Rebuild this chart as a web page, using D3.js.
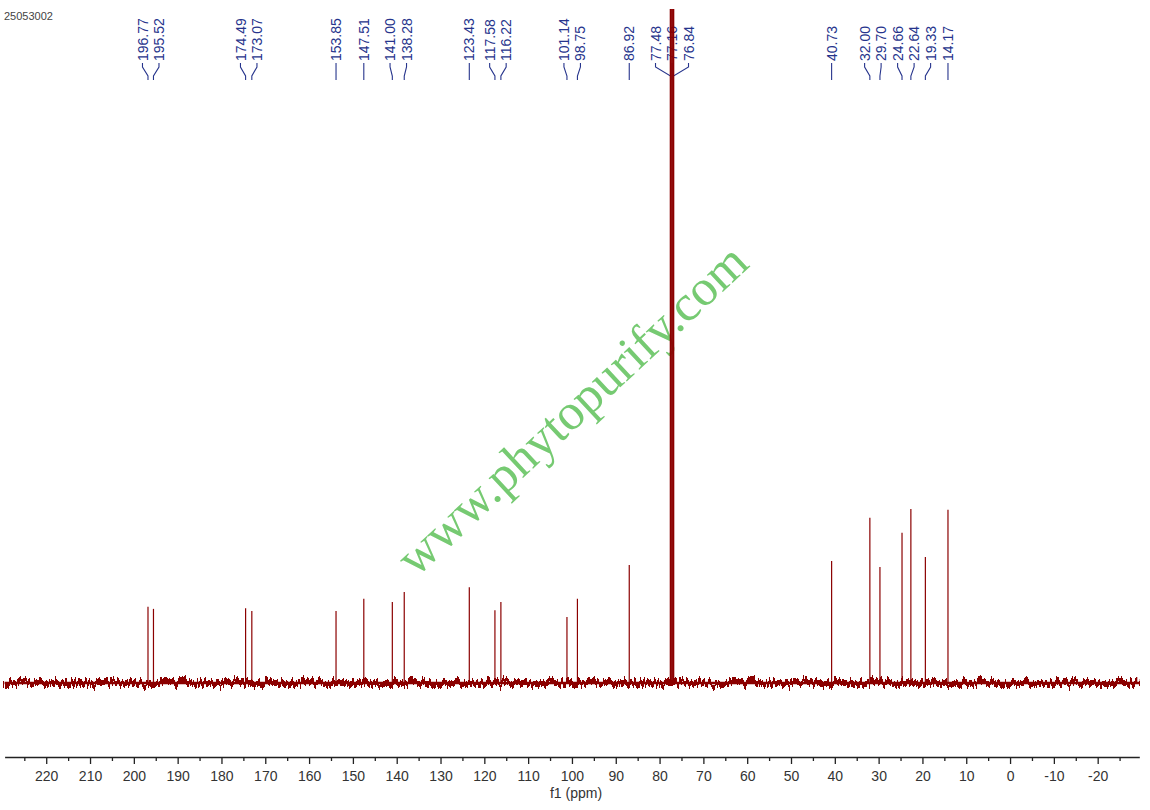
<!DOCTYPE html>
<html>

<head>
    <meta charset="utf-8" />
    <title>25053002 13C NMR</title>
    <script src="https://d3js.org/d3.v7.min.js"></script>
    <style>
        body { margin: 0; background: #fff; }
        svg text { font-family: Arial, "Liberation Sans", sans-serif; }
    </style>
</head>

<body>
    <svg id="spectrum" width="1150" height="810"></svg>

    <script>

        // peak positions (ppm) and heights (0 = baseline, 1000 = top of plot)
        var peakShifts = [196.77, 195.52, 174.49, 173.07, 153.85, 147.51, 141.00, 138.28,
            123.43, 117.58, 116.22, 101.14, 98.75, 86.92, 77.48, 77.16, 76.84,
            40.73, 32.00, 29.70, 24.66, 22.64, 19.33, 14.17];
        var peakHeights = [113, 110, 111, 107, 107, 125, 120, 135,
            142, 108, 120, 98, 125, 175, 1000, 1000, 1000,
            181, 245, 172, 223, 258, 187, 257];
        var peakLabels = peakShifts.map(function (d) { return d.toFixed(2); });

        var majorTicks = [220, 210, 200, 190, 180, 170, 160, 150, 140, 130, 120, 110,
            100, 90, 80, 70, 60, 50, 40, 30, 20, 10, 0, -10, -20];
        var minorTicks = [225, 215, 205, 195, 185, 175, 165, 155, 145, 135, 125, 115,
            105, 95, 85, 75, 65, 55, 45, 35, 25, 15, 5, -5, -15, -25];

        var sampleName = "25053002";
        var axisTitle = "f1 (ppm)";
        var watermark = "www.phytopurify.com";

        var svg = d3.select("#spectrum");

        var x = d3.scaleLinear().domain([229.5, -29.5]).range([4.6, 1139.3]);
        var y = d3.scaleLinear().domain([0, 1000]).range([683, 9]);

        var red = "#8b0000";
        var blue = "#26348c";

        // noise filter for the baseline
        var defs = svg.append("defs");
        var filt = defs.append("filter")
            .attr("id", "noise")
            .attr("filterUnits", "userSpaceOnUse")
            .attr("x", 0).attr("y", 655).attr("width", 1150).attr("height", 60);
        filt.append("feTurbulence")
            .attr("type", "fractalNoise")
            .attr("baseFrequency", "0.45 0.02")
            .attr("numOctaves", 2)
            .attr("seed", 3)
            .attr("result", "t");
        filt.append("feDisplacementMap")
            .attr("in", "SourceGraphic")
            .attr("in2", "t")
            .attr("scale", 16)
            .attr("xChannelSelector", "R")
            .attr("yChannelSelector", "G");

        // watermark
        svg.append("text")
            .attr("transform", "translate(416,578) rotate(-43)")
            .style("font-family", "'Liberation Serif', 'Times New Roman', serif")
            .style("font-size", "51px")
            .attr("fill", "#76ca72")
            .text(watermark);

        // sample name
        svg.append("text")
            .attr("x", 4).attr("y", 20)
            .style("font-size", "11px")
            .attr("fill", "#444")
            .text(sampleName);

        // spread labels so they don't overlap
        function spread(xs, gap) {
            var clusters = xs.map(function (v, i) { return { sum: v, n: 1, idx: [i] }; });
            var merged = true;
            while (merged) {
                merged = false;
                for (var i = 1; i < clusters.length; i++) {
                    var a = clusters[i - 1], b = clusters[i];
                    var aEnd = a.sum / a.n + (a.n - 1) * gap / 2;
                    var bStart = b.sum / b.n - (b.n - 1) * gap / 2;
                    if (bStart - aEnd < gap) {
                        clusters.splice(i - 1, 2, { sum: a.sum + b.sum, n: a.n + b.n, idx: a.idx.concat(b.idx) });
                        merged = true;
                        break;
                    }
                }
            }
            var out = [];
            clusters.forEach(function (c) {
                var start = c.sum / c.n - (c.n - 1) * gap / 2;
                c.idx.forEach(function (k, j) { out[k] = start + j * gap; });
            });
            return out;
        }

        var peakX = peakShifts.map(function (d) { return x(d); });
        var labelX = spread(peakX, 16.5);

        var labels = svg.append("g").attr("class", "labels");

        labels.selectAll("text")
            .data(peakLabels)
            .enter().append("text")
            .attr("transform", function (d, i) { return "translate(" + labelX[i] + ",61) rotate(-90)"; })
            .attr("dy", "0.36em")
            .style("font-size", "14px")
            .attr("fill", blue)
            .text(function (d) { return d; });

        labels.selectAll("path")
            .data(peakLabels)
            .enter().append("path")
            .attr("d", function (d, i) {
                return "M" + labelX[i] + ",63V67L" + peakX[i] + ",76V80";
            })
            .attr("fill", "none")
            .attr("stroke", blue)
            .attr("stroke-width", 1.1);

        // baseline
        var line = d3.line().x(function (d) { return x(d[0]); }).y(function (d) { return y(d[1]); });
        var base = [[x.domain()[0], 0], [x.domain()[1], 0]];

        svg.append("path")
            .attr("d", line(base))
            .attr("stroke", red)
            .attr("stroke-width", 6)
            .attr("fill", "none")
            .attr("filter", "url(#noise)");
        svg.append("path")
            .attr("d", line(base))
            .attr("stroke", red)
            .attr("stroke-width", 2.5)
            .attr("fill", "none");

        // peaks
        svg.append("g").selectAll("path")
            .data(peakShifts)
            .enter().append("path")
            .attr("d", function (d, i) { return line([[d, 0], [d, peakHeights[i]]]); })
            .attr("stroke", red)
            .attr("stroke-width", function (d, i) { return peakHeights[i] >= 1000 ? 1.8 : 1.2; })
            .attr("fill", "none");

        // axis
        var axisY = 757;
        var axis = svg.append("g")
            .attr("transform", "translate(0," + axisY + ")")
            .call(d3.axisBottom(x)
                .tickValues(majorTicks)
                .tickSize(7)
                .tickSizeOuter(0)
                .tickPadding(7)
                .tickFormat(function (d) { return String(d); }));
        axis.select(".domain").attr("stroke", "#222").attr("stroke-width", 1.3);
        axis.selectAll(".tick line").attr("stroke", "#222").attr("stroke-width", 1.3);
        axis.selectAll(".tick text")
            .style("font-family", "Arial, 'Liberation Sans', sans-serif")
            .style("font-size", "14px")
            .attr("fill", "#333");

        var minor = svg.append("g")
            .attr("transform", "translate(0," + axisY + ")")
            .call(d3.axisBottom(x).tickValues(minorTicks).tickSize(4).tickSizeOuter(0).tickFormat(""));
        minor.select(".domain").remove();
        minor.selectAll(".tick line").attr("stroke", "#222").attr("stroke-width", 1.3);

        svg.append("text")
            .attr("x", 576).attr("y", 798)
            .attr("text-anchor", "middle")
            .style("font-size", "14px")
            .attr("fill", "#333")
            .text(axisTitle);

    </script>

</body>

</html>
